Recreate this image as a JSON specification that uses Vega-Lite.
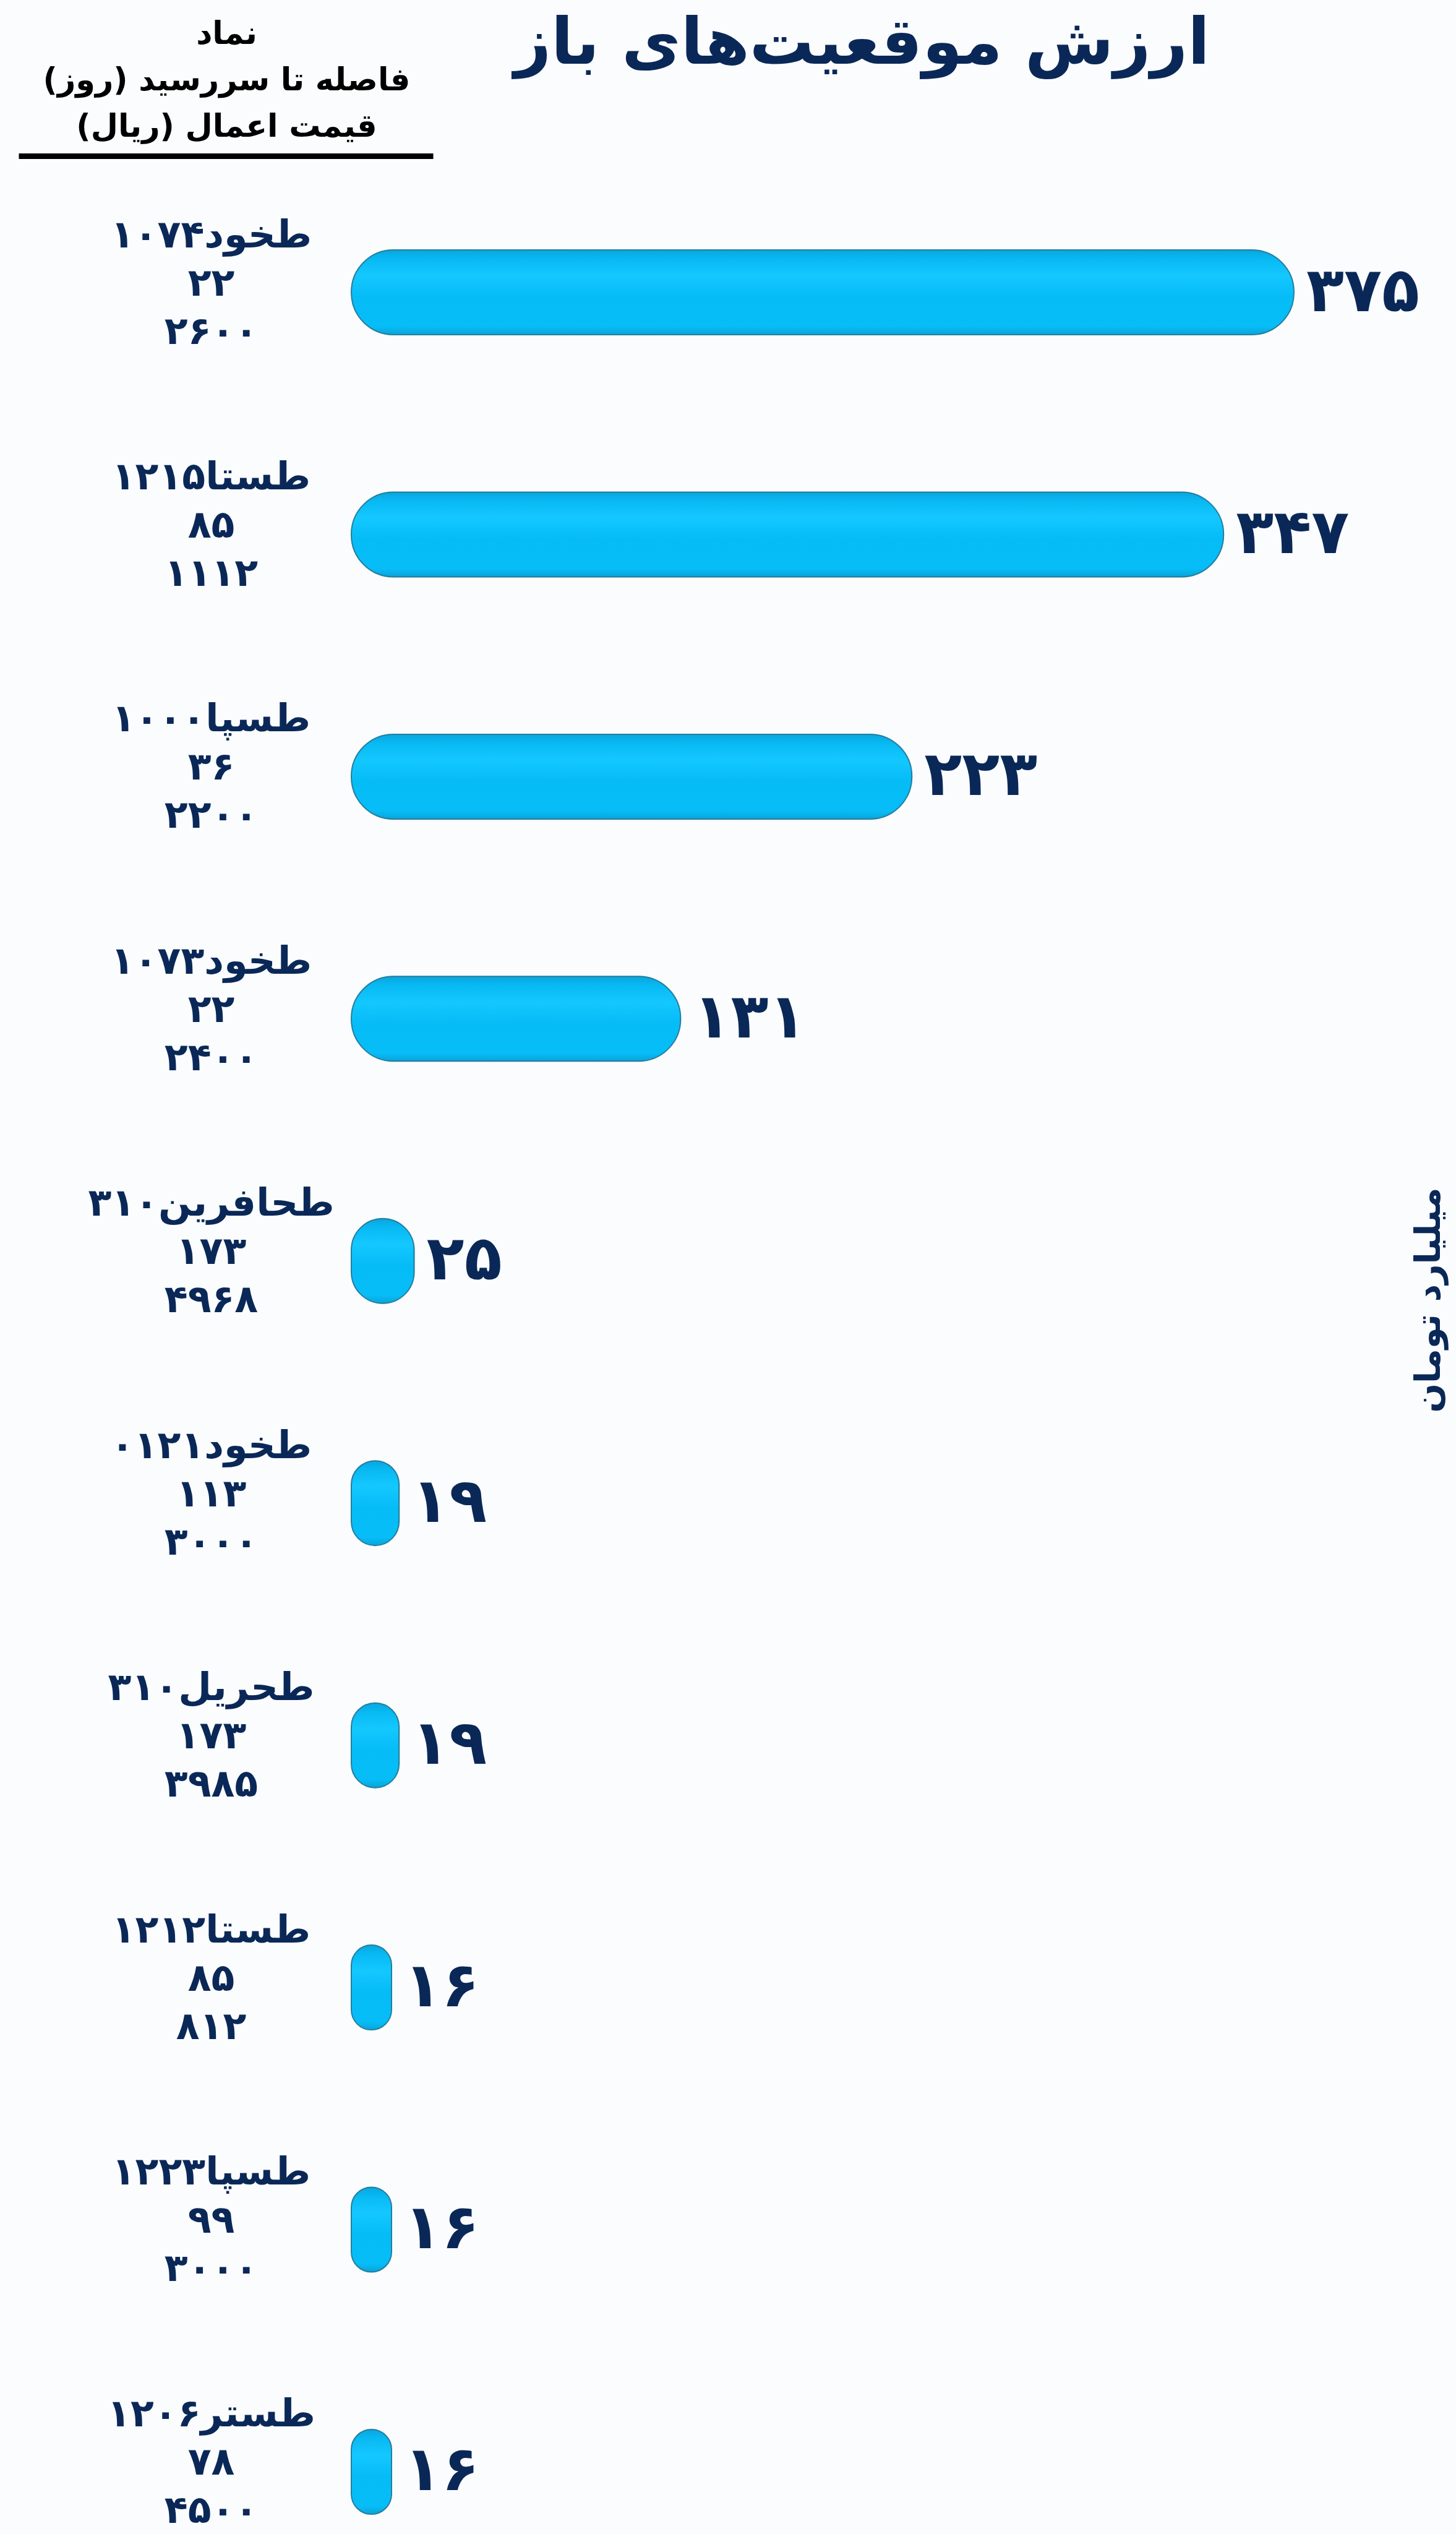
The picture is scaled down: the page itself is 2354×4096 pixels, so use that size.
{
  "$schema": "https://vega.github.io/schema/vega-lite/v6.json",
  "width": 1524,
  "height": 3660,
  "autosize": {"type": "none"},
  "padding": {"left": 568, "top": 404, "right": 262, "bottom": 32},
  "background": "#fbfcfd",
  "config": {"view": {"stroke": null}, "font": "DejaVu Sans"},
  "data": {
    "values": [
      {"label": "طخود۱۰۷۴|۲۲|۲۶۰۰", "value": 375, "value_fa": "۳۷۵"},
      {"label": "طستا۱۲۱۵|۸۵|۱۱۱۲", "value": 347, "value_fa": "۳۴۷"},
      {"label": "طسپا۱۰۰۰|۳۶|۲۲۰۰", "value": 223, "value_fa": "۲۲۳"},
      {"label": "طخود۱۰۷۳|۲۲|۲۴۰۰", "value": 131, "value_fa": "۱۳۱"},
      {"label": "طحافرین۳۱۰|۱۷۳|۴۹۶۸", "value": 25, "value_fa": "۲۵"},
      {"label": "طخود۰۱۲۱|۱۱۳|۳۰۰۰", "value": 19, "value_fa": "۱۹"},
      {"label": "طحریل۳۱۰|۱۷۳|۳۹۸۵", "value": 19, "value_fa": "۱۹"},
      {"label": "طستا۱۲۱۲|۸۵|۸۱۲", "value": 16, "value_fa": "۱۶"},
      {"label": "طسپا۱۲۲۳|۹۹|۳۰۰۰", "value": 16, "value_fa": "۱۶"},
      {"label": "طستر۱۲۰۶|۷۸|۴۵۰۰", "value": 16, "value_fa": "۱۶"}
    ]
  },
  "layer": [
    {
      "encoding": {
        "y": {
          "field": "label",
          "type": "nominal",
          "sort": null,
          "scale": {"paddingInner": 0.65, "paddingOuter": 0},
          "axis": {
            "labelExpr": "split(datum.label, '|')",
            "labelFontSize": 62,
            "labelLineHeight": 78,
            "labelColor": "#0a2857",
            "labelFontWeight": "bold",
            "labelAlign": "center",
            "labelBaseline": "middle",
            "labelPadding": 227,
            "labelOffset": -92,
            "labelLimit": 0,
            "ticks": false,
            "domain": false,
            "grid": false,
            "title": ["نماد", "فاصله تا سررسید (روز)", "قیمت اعمال (ریال)"],
            "titleAngle": 0,
            "titleX": -202,
            "titleY": -334,
            "titleAlign": "center",
            "titleBaseline": "alphabetic",
            "titleFontSize": 51,
            "titleLineHeight": 75,
            "titleColor": "#000000",
            "titleFontWeight": "bold"
          }
        },
        "x": {
          "field": "value",
          "type": "quantitative",
          "scale": {"domain": [0, 375], "nice": false},
          "axis": null
        }
      },
      "layer": [
        {
          "mark": {
            "type": "bar",
            "cornerRadius": 68,
            "stroke": "#237f9f",
            "strokeWidth": 2,
            "fill": {
              "gradient": "linear",
              "x1": 0, "y1": 0, "x2": 0, "y2": 1,
              "stops": [
                {"offset": 0, "color": "#0aa6dc"},
                {"offset": 0.1, "color": "#08b8f2"},
                {"offset": 0.3, "color": "#14c8ff"},
                {"offset": 0.55, "color": "#06bcf7"},
                {"offset": 0.9, "color": "#07bdf8"},
                {"offset": 1, "color": "#0aa4d8"}
              ]
            }
          }
        },
        {
          "mark": {
            "type": "text",
            "align": "left",
            "baseline": "middle",
            "dx": 20,
            "fontSize": 100,
            "fontWeight": "bold",
            "fill": "#0a2857"
          },
          "encoding": {"text": {"field": "value_fa"}}
        }
      ]
    },
    {
      "mark": {"type": "point", "opacity": 0},
      "encoding": {
        "x": {
          "field": "value",
          "type": "quantitative",
          "scale": {"domain": [0, 375], "nice": false, "range": [-538, 132]},
          "axis": {
            "orient": "top",
            "offset": 152,
            "domainWidth": 9,
            "domainColor": "#000000",
            "ticks": false,
            "labels": false,
            "grid": false,
            "title": "ارزش موقعیت‌های باز",
            "titleX": 825,
            "titleY": -150,
            "titleAngle": 0,
            "titleAlign": "center",
            "titleBaseline": "alphabetic",
            "titleFontSize": 104,
            "titleColor": "#0a2857",
            "titleFontWeight": "bold"
          }
        },
        "y": {
          "field": "label",
          "type": "nominal",
          "sort": null,
          "scale": {"paddingInner": 0.65, "paddingOuter": 0},
          "axis": {
            "orient": "right",
            "labels": false,
            "ticks": false,
            "domain": false,
            "grid": false,
            "title": "میلیارد تومان",
            "titleAngle": -90,
            "titleX": 235,
            "titleY": 1697,
            "titleAlign": "center",
            "titleBaseline": "alphabetic",
            "titleFontSize": 56,
            "titleColor": "#0a2857",
            "titleFontWeight": "bold"
          }
        }
      }
    }
  ],
  "resolve": {"scale": {"x": "independent", "y": "independent"}}
}
